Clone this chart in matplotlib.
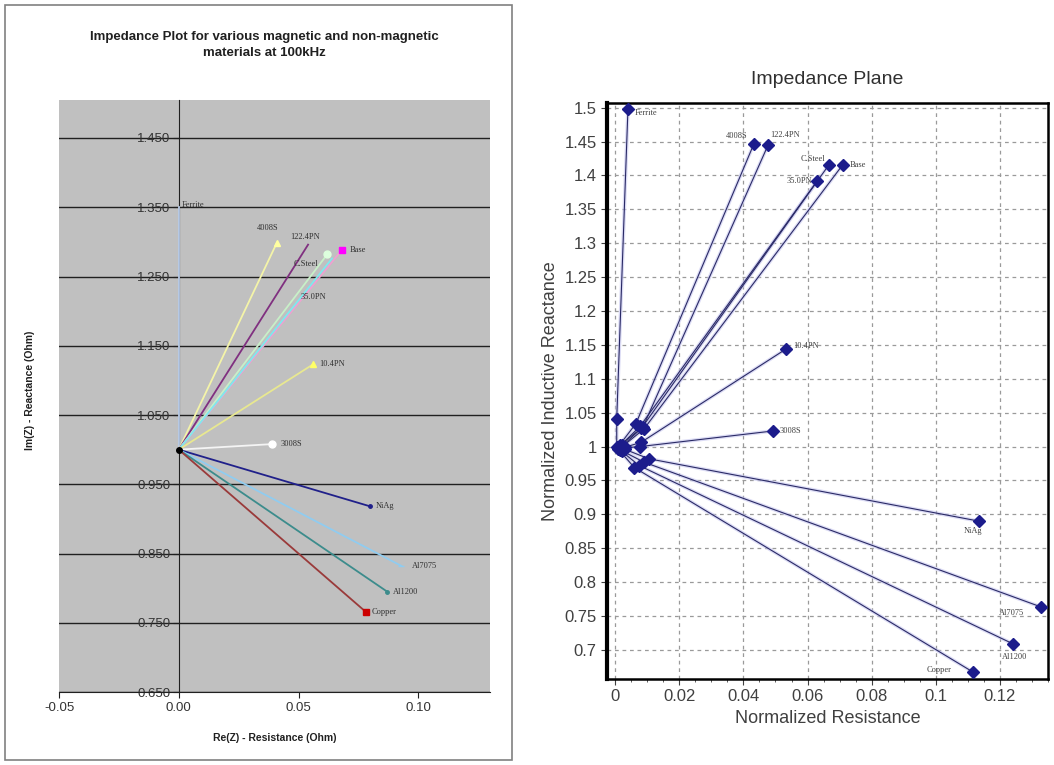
import matplotlib
matplotlib.use('Agg')
import matplotlib.pyplot as plt
from matplotlib.patches import Rectangle
from matplotlib.ticker import MultipleLocator, FormatStrFormatter, FuncFormatter

# left chart: absolute impedance at 100kHz
left_names = ['Ferrite', '4008S', '122.4PN', 'C.Steel', 'Base', '35.0PN',
              '10.4PN', '3008S', 'NiAg', 'Al7075', 'Al1200', 'Copper']
left_re = [0.000, 0.041, 0.054, 0.062, 0.068, 0.064,
           0.056, 0.039, 0.080, 0.093, 0.087, 0.078]
left_im = [1.350, 1.299, 1.296, 1.282, 1.288, 1.276,
           1.123, 1.008, 0.918, 0.832, 0.795, 0.766]
left_origin = (0.0, 1.0)

# right chart: normalized impedance plane
right_names = left_names
right_re_start = [0.0005, 0.0010, 0.0015, 0.0020, 0.0025, 0.0020,
                  0.0030, 0.0025, 0.0030, 0.0020, 0.0015, 0.0010]
right_im_start = [1.000, 1.000, 1.002, 1.000, 1.001, 1.003,
                  0.999, 0.998, 0.996, 0.994, 0.995, 0.996]
right_re_mid = [0.0005, 0.0065, 0.0087, 0.0082, 0.0090, 0.0078,
                0.0080, 0.0078, 0.0105, 0.0090, 0.0075, 0.0060]
right_im_mid = [1.041, 1.034, 1.029, 1.027, 1.026, 1.030,
                1.006, 1.000, 0.982, 0.977, 0.972, 0.969]
right_re_end = [0.0040, 0.0433, 0.0477, 0.0667, 0.0710, 0.0630,
                0.0533, 0.0492, 0.1134, 0.1327, 0.1240, 0.1115]
right_im_end = [1.498, 1.447, 1.445, 1.416, 1.416, 1.392,
                1.144, 1.023, 0.890, 0.7635, 0.709, 0.6675]

# styles for left series (line colour, marker, marker colour)
left_styles = [('#b8cbe8', '', '#b8cbe8'), ('#f4f4a8', '^', '#ffffa0'),
               ('#803080', '', '#803080'), ('#c8f0c8', 'o', '#ddffdd'),
               ('#f0a0d0', 's', '#ff00ff'), ('#80e8ee', '', '#80e8ee'),
               ('#e8e890', '^', '#ffff66'), ('#f4f4f4', 'o', '#ffffff'),
               ('#20208a', '.', '#20208a'), ('#90ccf0', '_', '#90ccf0'),
               ('#3c8c8c', '.', '#3c8c8c'), ('#9a3a3a', 's', '#cc0000')]
left_offsets = [(3, 2, 'left'), (-9, 15, 'center'), (-3, 8, 'center'),
                (-21, -10, 'center'), (8, 0, 'left'), (-19, -39, 'center'),
                (6, 0, 'left'), (8, 0, 'left'), (5, 0, 'left'),
                (10, 0, 'left'), (6, 0, 'left'), (6, 0, 'left')]
right_offsets = [(7, -4, 'left'), (-7, 8, 'right'), (2, 10, 'left'),
                 (-4, 6, 'right'), (7, 0, 'left'), (-5, 0, 'right'),
                 (7, 3, 'left'), (7, 0, 'left'), (-6, -10, 'center'),
                 (-29, -6, 'center'), (2, -13, 'center'), (-21, 2, 'right')]

fig = plt.figure(figsize=(10.54, 7.65), dpi=100)
fig.patch.set_facecolor('white')

# ---------- left chart ----------
fig.patches.append(Rectangle((0.0047, 0.0065), 0.481, 0.987, transform=fig.transFigure,
                             fill=False, edgecolor='#808080', linewidth=1.2))
ax1 = fig.add_axes([0.056, 0.0954, 0.409, 0.774])
ax1.set_facecolor('#c0c0c0')
ax1.set_xlim(-0.05, 0.13)
ax1.set_ylim(0.65, 1.505)
ax1.set_yticks([0.65 + 0.1 * i for i in range(9)])
ax1.yaxis.set_major_formatter(FormatStrFormatter('%.3f'))
ax1.set_xticks([-0.05, 0.0, 0.05, 0.10])
ax1.xaxis.set_major_formatter(FormatStrFormatter('%.2f'))
ax1.grid(axis='y', color='#202020', linewidth=1.0)
ax1.spines['left'].set_position(('data', 0))
ax1.spines['top'].set_visible(False)
ax1.spines['right'].set_visible(False)
ax1.spines['left'].set_color('#202020')
ax1.spines['bottom'].set_color('#202020')
ax1.tick_params(axis='both', labelsize=9.5, labelcolor='#333333', length=4, color='#202020')
ax1.tick_params(axis='y', pad=2)
for lab in ax1.get_xticklabels() + ax1.get_yticklabels():
    lab.set_family('Liberation Sans')

for name, x, y, (lc, mk, mc), (dx, dy, ha) in zip(left_names, left_re, left_im,
                                                  left_styles, left_offsets):
    ax1.plot([left_origin[0], x], [left_origin[1], y], color=lc, linewidth=1.3, zorder=3)
    if mk:
        ax1.plot([x], [y], marker=mk, color=mc, markersize=5, markeredgewidth=1, zorder=4)
    ax1.annotate(name, (x, y), xytext=(dx, dy), textcoords='offset pixels',
                 ha=ha, va='center', fontsize=6, family='Liberation Serif',
                 color='#303030', zorder=5)
ax1.plot([left_origin[0]], [left_origin[1]], 'o', color='black', markersize=4, zorder=6)

fig.text(0.251, 0.941, 'Impedance Plot for various magnetic and non-magnetic\nmaterials at 100kHz',
         ha='center', va='center', fontsize=9.5, fontweight='bold',
         family='Liberation Sans', color='#202020', linespacing=1.5)
fig.text(0.0285, 0.49, 'Im(Z) - Reactance (Ohm)', rotation=90, ha='center', va='center',
         fontsize=7.5, fontweight='bold', family='Liberation Sans', color='#202020')
fig.text(0.261, 0.035, 'Re(Z) - Resistance (Ohm)', ha='center', va='center',
         fontsize=7.5, fontweight='bold', family='Liberation Sans', color='#202020')

# ---------- right chart ----------
ax2 = fig.add_axes([0.576, 0.1124, 0.4184, 0.753])
ax2.set_xlim(-0.0025, 0.135)
ax2.set_ylim(0.657, 1.507)
ax2.set_xticks([0.02 * i for i in range(7)])
ax2.set_yticks([0.7 + 0.05 * i for i in range(17)])
ax2.xaxis.set_minor_locator(MultipleLocator(0.005))
fmt = FuncFormatter(lambda v, p: '%g' % round(v, 3))
ax2.xaxis.set_major_formatter(fmt)
ax2.yaxis.set_major_formatter(fmt)
ax2.grid(True, which='major', color='#9a9a9a', linestyle=(0, (3, 3)), linewidth=0.9)
for s in ax2.spines.values():
    s.set_linewidth(1.8)
    s.set_color('black')
ax2.spines['left'].set_linewidth(3)
ax2.tick_params(axis='both', which='major', labelsize=12, labelcolor='#404040',
                length=4, color='#404040')
ax2.tick_params(axis='x', which='minor', length=2.5, color='#404040')
for lab in ax2.get_xticklabels() + ax2.get_yticklabels():
    lab.set_family('Liberation Sans')

for i, name in enumerate(right_names):
    xs = [right_re_start[i], right_re_mid[i], right_re_end[i]]
    ys = [right_im_start[i], right_im_mid[i], right_im_end[i]]
    ax2.plot(xs, ys, color='#c4c4ee', linewidth=2.6, alpha=0.6, zorder=2,
             solid_capstyle='round')
    ax2.plot(xs, ys, color='#2a2a66', linewidth=0.8, zorder=3)
    ax2.plot(xs, ys, 'D', color='#1c1c8c', markersize=6, zorder=4)
    dx, dy, ha = right_offsets[i]
    ax2.annotate(name, (xs[-1], ys[-1]), xytext=(dx, dy), textcoords='offset pixels',
                 ha=ha, va='center', fontsize=6, family='Liberation Serif',
                 color='#404040', zorder=5)

ax2.set_title('Impedance Plane', fontsize=14, family='Liberation Sans', color='#303030', pad=14)
ax2.set_xlabel('Normalized Resistance', fontsize=13, family='Liberation Sans', color='#404040')
ax2.set_ylabel('Normalized Inductive Reactance', fontsize=13, family='Liberation Sans',
               color='#404040')

fig.savefig('out.png', dpi=100)
